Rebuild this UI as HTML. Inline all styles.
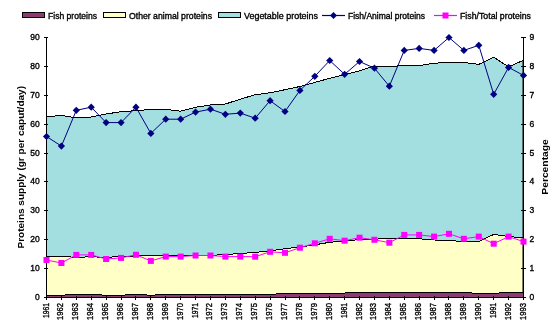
<!DOCTYPE html>
<html><head><meta charset="utf-8"><style>html,body{margin:0;padding:0;background:#fff;}svg{display:block;will-change:transform;}</style></head>
<body>
<svg width="553" height="324" viewBox="0 0 553 324">
<rect width="553" height="324" fill="#fff"/>
<polygon points="46.50,116.80 61.41,115.40 76.31,117.90 91.22,117.00 106.12,114.00 121.03,111.70 135.94,110.70 150.84,109.40 165.75,109.40 180.66,111.20 195.56,107.30 210.47,105.00 225.38,104.00 240.28,99.20 255.19,94.70 270.09,92.80 285.00,89.70 299.91,86.50 314.81,82.40 329.72,78.30 344.62,74.50 359.53,70.80 374.44,66.00 389.34,66.90 404.25,65.20 419.16,65.70 434.06,63.20 448.97,62.40 463.88,62.40 478.78,64.40 493.69,57.30 508.59,66.80 523.50,60.20 523.50,237.70 508.59,236.60 493.69,234.40 478.78,241.60 463.88,241.80 448.97,240.30 434.06,240.00 419.16,238.80 404.25,238.30 389.34,238.30 374.44,239.20 359.53,239.60 344.62,241.00 329.72,242.30 314.81,244.80 299.91,247.00 285.00,248.70 270.09,250.90 255.19,252.40 240.28,253.50 225.38,254.60 210.47,255.30 195.56,255.50 180.66,255.50 165.75,255.50 150.84,255.40 135.94,256.00 121.03,256.50 106.12,257.30 91.22,256.80 76.31,257.30 61.41,256.50 46.50,256.50" fill="#a3dfe0"/>
<polygon points="46.50,256.50 61.41,256.50 76.31,257.30 91.22,256.80 106.12,257.30 121.03,256.50 135.94,256.00 150.84,255.40 165.75,255.50 180.66,255.50 195.56,255.50 210.47,255.30 225.38,254.60 240.28,253.50 255.19,252.40 270.09,250.90 285.00,248.70 299.91,247.00 314.81,244.80 329.72,242.30 344.62,241.00 359.53,239.60 374.44,239.20 389.34,238.30 404.25,238.30 419.16,238.80 434.06,240.00 448.97,240.30 463.88,241.80 478.78,241.60 493.69,234.40 508.59,236.60 523.50,237.70 523.50,292.30 508.59,292.50 493.69,293.30 478.78,293.30 463.88,292.70 448.97,292.70 434.06,292.70 419.16,292.70 404.25,292.70 389.34,292.70 374.44,292.70 359.53,292.70 344.62,293.00 329.72,293.00 314.81,293.00 299.91,293.00 285.00,293.70 270.09,294.20 255.19,294.20 240.28,294.20 225.38,294.20 210.47,294.20 195.56,294.20 180.66,294.20 165.75,294.20 150.84,295.30 135.94,294.20 121.03,295.30 106.12,295.30 91.22,294.20 76.31,294.20 61.41,295.30 46.50,295.30" fill="#ffffc6"/>
<polygon points="46.50,295.30 61.41,295.30 76.31,294.20 91.22,294.20 106.12,295.30 121.03,295.30 135.94,294.20 150.84,295.30 165.75,294.20 180.66,294.20 195.56,294.20 210.47,294.20 225.38,294.20 240.28,294.20 255.19,294.20 270.09,294.20 285.00,293.70 299.91,293.00 314.81,293.00 329.72,293.00 344.62,293.00 359.53,292.70 374.44,292.70 389.34,292.70 404.25,292.70 419.16,292.70 434.06,292.70 448.97,292.70 463.88,292.70 478.78,293.30 493.69,293.30 508.59,292.50 523.50,292.30 523.50,297.00 508.59,297.00 493.69,297.00 478.78,297.00 463.88,297.00 448.97,297.00 434.06,297.00 419.16,297.00 404.25,297.00 389.34,297.00 374.44,297.00 359.53,297.00 344.62,297.00 329.72,297.00 314.81,297.00 299.91,297.00 285.00,297.00 270.09,297.00 255.19,297.00 240.28,297.00 225.38,297.00 210.47,297.00 195.56,297.00 180.66,297.00 165.75,297.00 150.84,297.00 135.94,297.00 121.03,297.00 106.12,297.00 91.22,297.00 76.31,297.00 61.41,297.00 46.50,297.00" fill="#8e3a73"/>
<polyline points="46.50,116.80 61.41,115.40 76.31,117.90 91.22,117.00 106.12,114.00 121.03,111.70 135.94,110.70 150.84,109.40 165.75,109.40 180.66,111.20 195.56,107.30 210.47,105.00 225.38,104.00 240.28,99.20 255.19,94.70 270.09,92.80 285.00,89.70 299.91,86.50 314.81,82.40 329.72,78.30 344.62,74.50 359.53,70.80 374.44,66.00 389.34,66.90 404.25,65.20 419.16,65.70 434.06,63.20 448.97,62.40 463.88,62.40 478.78,64.40 493.69,57.30 508.59,66.80 523.50,60.20" fill="none" stroke="#000" stroke-width="1" shape-rendering="crispEdges"/>
<polyline points="46.50,256.50 61.41,256.50 76.31,257.30 91.22,256.80 106.12,257.30 121.03,256.50 135.94,256.00 150.84,255.40 165.75,255.50 180.66,255.50 195.56,255.50 210.47,255.30 225.38,254.60 240.28,253.50 255.19,252.40 270.09,250.90 285.00,248.70 299.91,247.00 314.81,244.80 329.72,242.30 344.62,241.00 359.53,239.60 374.44,239.20 389.34,238.30 404.25,238.30 419.16,238.80 434.06,240.00 448.97,240.30 463.88,241.80 478.78,241.60 493.69,234.40 508.59,236.60 523.50,237.70" fill="none" stroke="#000" stroke-width="1" shape-rendering="crispEdges"/>
<polyline points="46.50,295.30 61.41,295.30 76.31,294.20 91.22,294.20 106.12,295.30 121.03,295.30 135.94,294.20 150.84,295.30 165.75,294.20 180.66,294.20 195.56,294.20 210.47,294.20 225.38,294.20 240.28,294.20 255.19,294.20 270.09,294.20 285.00,293.70 299.91,293.00 314.81,293.00 329.72,293.00 344.62,293.00 359.53,292.70 374.44,292.70 389.34,292.70 404.25,292.70 419.16,292.70 434.06,292.70 448.97,292.70 463.88,292.70 478.78,293.30 493.69,293.30 508.59,292.50 523.50,292.30" fill="none" stroke="#000" stroke-width="1" shape-rendering="crispEdges"/>
<line x1="523" y1="292" x2="523" y2="60" stroke="#000" stroke-width="1"/>
<g stroke="#000" stroke-width="1" shape-rendering="crispEdges">
<line x1="46.5" y1="37" x2="46.5" y2="298"/>
<line x1="523.5" y1="37" x2="523.5" y2="298"/>
<line x1="46" y1="297.5" x2="524" y2="297.5"/>
<line x1="44" y1="297.5" x2="48" y2="297.5"/>
<line x1="521" y1="297.5" x2="526" y2="297.5"/>
<line x1="44" y1="268.5" x2="48" y2="268.5"/>
<line x1="521" y1="268.5" x2="526" y2="268.5"/>
<line x1="44" y1="239.5" x2="48" y2="239.5"/>
<line x1="521" y1="239.5" x2="526" y2="239.5"/>
<line x1="44" y1="210.5" x2="48" y2="210.5"/>
<line x1="521" y1="210.5" x2="526" y2="210.5"/>
<line x1="44" y1="181.5" x2="48" y2="181.5"/>
<line x1="521" y1="181.5" x2="526" y2="181.5"/>
<line x1="44" y1="153.5" x2="48" y2="153.5"/>
<line x1="521" y1="153.5" x2="526" y2="153.5"/>
<line x1="44" y1="124.5" x2="48" y2="124.5"/>
<line x1="521" y1="124.5" x2="526" y2="124.5"/>
<line x1="44" y1="95.5" x2="48" y2="95.5"/>
<line x1="521" y1="95.5" x2="526" y2="95.5"/>
<line x1="44" y1="66.5" x2="48" y2="66.5"/>
<line x1="521" y1="66.5" x2="526" y2="66.5"/>
<line x1="44" y1="37.5" x2="48" y2="37.5"/>
<line x1="521" y1="37.5" x2="526" y2="37.5"/>
<line x1="46.5" y1="296" x2="46.5" y2="300"/>
<line x1="61.5" y1="296" x2="61.5" y2="300"/>
<line x1="76.5" y1="296" x2="76.5" y2="300"/>
<line x1="91.5" y1="296" x2="91.5" y2="300"/>
<line x1="106.5" y1="296" x2="106.5" y2="300"/>
<line x1="121.5" y1="296" x2="121.5" y2="300"/>
<line x1="135.5" y1="296" x2="135.5" y2="300"/>
<line x1="150.5" y1="296" x2="150.5" y2="300"/>
<line x1="165.5" y1="296" x2="165.5" y2="300"/>
<line x1="180.5" y1="296" x2="180.5" y2="300"/>
<line x1="195.5" y1="296" x2="195.5" y2="300"/>
<line x1="210.5" y1="296" x2="210.5" y2="300"/>
<line x1="225.5" y1="296" x2="225.5" y2="300"/>
<line x1="240.5" y1="296" x2="240.5" y2="300"/>
<line x1="255.5" y1="296" x2="255.5" y2="300"/>
<line x1="270.5" y1="296" x2="270.5" y2="300"/>
<line x1="285.5" y1="296" x2="285.5" y2="300"/>
<line x1="299.5" y1="296" x2="299.5" y2="300"/>
<line x1="314.5" y1="296" x2="314.5" y2="300"/>
<line x1="329.5" y1="296" x2="329.5" y2="300"/>
<line x1="344.5" y1="296" x2="344.5" y2="300"/>
<line x1="359.5" y1="296" x2="359.5" y2="300"/>
<line x1="374.5" y1="296" x2="374.5" y2="300"/>
<line x1="389.5" y1="296" x2="389.5" y2="300"/>
<line x1="404.5" y1="296" x2="404.5" y2="300"/>
<line x1="419.5" y1="296" x2="419.5" y2="300"/>
<line x1="434.5" y1="296" x2="434.5" y2="300"/>
<line x1="448.5" y1="296" x2="448.5" y2="300"/>
<line x1="463.5" y1="296" x2="463.5" y2="300"/>
<line x1="478.5" y1="296" x2="478.5" y2="300"/>
<line x1="493.5" y1="296" x2="493.5" y2="300"/>
<line x1="508.5" y1="296" x2="508.5" y2="300"/>
<line x1="523.5" y1="296" x2="523.5" y2="300"/>
</g>
<polyline points="46.50,260.00 61.41,263.00 76.31,254.90 91.22,254.90 106.12,259.00 121.03,257.90 135.94,254.80 150.84,260.90 165.75,256.60 180.66,256.60 195.56,255.50 210.47,255.50 225.38,256.60 240.28,256.60 255.19,256.70 270.09,251.80 285.00,252.80 299.91,247.70 314.81,243.30 329.72,238.80 344.62,240.70 359.53,237.70 374.44,239.80 389.34,242.70 404.25,234.90 419.16,234.90 434.06,236.60 448.97,233.80 463.88,238.80 478.78,236.60 493.69,243.70 508.59,236.60 523.50,241.60" fill="none" stroke="#ff00ff" stroke-width="1"/>
<rect x="43.50" y="257.00" width="6" height="6" fill="#ff00ff"/>
<rect x="58.41" y="260.00" width="6" height="6" fill="#ff00ff"/>
<rect x="73.31" y="251.90" width="6" height="6" fill="#ff00ff"/>
<rect x="88.22" y="251.90" width="6" height="6" fill="#ff00ff"/>
<rect x="103.12" y="256.00" width="6" height="6" fill="#ff00ff"/>
<rect x="118.03" y="254.90" width="6" height="6" fill="#ff00ff"/>
<rect x="132.94" y="251.80" width="6" height="6" fill="#ff00ff"/>
<rect x="147.84" y="257.90" width="6" height="6" fill="#ff00ff"/>
<rect x="162.75" y="253.60" width="6" height="6" fill="#ff00ff"/>
<rect x="177.66" y="253.60" width="6" height="6" fill="#ff00ff"/>
<rect x="192.56" y="252.50" width="6" height="6" fill="#ff00ff"/>
<rect x="207.47" y="252.50" width="6" height="6" fill="#ff00ff"/>
<rect x="222.38" y="253.60" width="6" height="6" fill="#ff00ff"/>
<rect x="237.28" y="253.60" width="6" height="6" fill="#ff00ff"/>
<rect x="252.19" y="253.70" width="6" height="6" fill="#ff00ff"/>
<rect x="267.09" y="248.80" width="6" height="6" fill="#ff00ff"/>
<rect x="282.00" y="249.80" width="6" height="6" fill="#ff00ff"/>
<rect x="296.91" y="244.70" width="6" height="6" fill="#ff00ff"/>
<rect x="311.81" y="240.30" width="6" height="6" fill="#ff00ff"/>
<rect x="326.72" y="235.80" width="6" height="6" fill="#ff00ff"/>
<rect x="341.62" y="237.70" width="6" height="6" fill="#ff00ff"/>
<rect x="356.53" y="234.70" width="6" height="6" fill="#ff00ff"/>
<rect x="371.44" y="236.80" width="6" height="6" fill="#ff00ff"/>
<rect x="386.34" y="239.70" width="6" height="6" fill="#ff00ff"/>
<rect x="401.25" y="231.90" width="6" height="6" fill="#ff00ff"/>
<rect x="416.16" y="231.90" width="6" height="6" fill="#ff00ff"/>
<rect x="431.06" y="233.60" width="6" height="6" fill="#ff00ff"/>
<rect x="445.97" y="230.80" width="6" height="6" fill="#ff00ff"/>
<rect x="460.88" y="235.80" width="6" height="6" fill="#ff00ff"/>
<rect x="475.78" y="233.60" width="6" height="6" fill="#ff00ff"/>
<rect x="490.69" y="240.70" width="6" height="6" fill="#ff00ff"/>
<rect x="505.59" y="233.60" width="6" height="6" fill="#ff00ff"/>
<rect x="520.50" y="238.60" width="6" height="6" fill="#ff00ff"/>
<polyline points="46.50,136.50 61.41,146.10 76.31,110.30 91.22,107.20 106.12,122.60 121.03,122.60 135.94,107.20 150.84,133.40 165.75,119.20 180.66,119.20 195.56,112.10 210.47,109.20 225.38,114.30 240.28,113.10 255.19,118.20 270.09,100.70 285.00,111.50 299.91,90.40 314.81,76.30 329.72,60.50 344.62,74.30 359.53,61.50 374.44,68.20 389.34,86.20 404.25,50.40 419.16,48.40 434.06,50.40 448.97,37.50 463.88,50.40 478.78,45.30 493.69,94.30 508.59,67.40 523.50,75.40" fill="none" stroke="#000080" stroke-width="1"/>
<polygon points="46.50,132.90 50.10,136.50 46.50,140.10 42.90,136.50" fill="#000080"/>
<polygon points="61.41,142.50 65.01,146.10 61.41,149.70 57.81,146.10" fill="#000080"/>
<polygon points="76.31,106.70 79.91,110.30 76.31,113.90 72.71,110.30" fill="#000080"/>
<polygon points="91.22,103.60 94.82,107.20 91.22,110.80 87.62,107.20" fill="#000080"/>
<polygon points="106.12,119.00 109.72,122.60 106.12,126.20 102.53,122.60" fill="#000080"/>
<polygon points="121.03,119.00 124.63,122.60 121.03,126.20 117.43,122.60" fill="#000080"/>
<polygon points="135.94,103.60 139.54,107.20 135.94,110.80 132.34,107.20" fill="#000080"/>
<polygon points="150.84,129.80 154.44,133.40 150.84,137.00 147.24,133.40" fill="#000080"/>
<polygon points="165.75,115.60 169.35,119.20 165.75,122.80 162.15,119.20" fill="#000080"/>
<polygon points="180.66,115.60 184.26,119.20 180.66,122.80 177.06,119.20" fill="#000080"/>
<polygon points="195.56,108.50 199.16,112.10 195.56,115.70 191.96,112.10" fill="#000080"/>
<polygon points="210.47,105.60 214.07,109.20 210.47,112.80 206.87,109.20" fill="#000080"/>
<polygon points="225.38,110.70 228.97,114.30 225.38,117.90 221.78,114.30" fill="#000080"/>
<polygon points="240.28,109.50 243.88,113.10 240.28,116.70 236.68,113.10" fill="#000080"/>
<polygon points="255.19,114.60 258.79,118.20 255.19,121.80 251.59,118.20" fill="#000080"/>
<polygon points="270.09,97.10 273.69,100.70 270.09,104.30 266.49,100.70" fill="#000080"/>
<polygon points="285.00,107.90 288.60,111.50 285.00,115.10 281.40,111.50" fill="#000080"/>
<polygon points="299.91,86.80 303.51,90.40 299.91,94.00 296.31,90.40" fill="#000080"/>
<polygon points="314.81,72.70 318.41,76.30 314.81,79.90 311.21,76.30" fill="#000080"/>
<polygon points="329.72,56.90 333.32,60.50 329.72,64.10 326.12,60.50" fill="#000080"/>
<polygon points="344.62,70.70 348.23,74.30 344.62,77.90 341.02,74.30" fill="#000080"/>
<polygon points="359.53,57.90 363.13,61.50 359.53,65.10 355.93,61.50" fill="#000080"/>
<polygon points="374.44,64.60 378.04,68.20 374.44,71.80 370.84,68.20" fill="#000080"/>
<polygon points="389.34,82.60 392.94,86.20 389.34,89.80 385.74,86.20" fill="#000080"/>
<polygon points="404.25,46.80 407.85,50.40 404.25,54.00 400.65,50.40" fill="#000080"/>
<polygon points="419.16,44.80 422.76,48.40 419.16,52.00 415.56,48.40" fill="#000080"/>
<polygon points="434.06,46.80 437.66,50.40 434.06,54.00 430.46,50.40" fill="#000080"/>
<polygon points="448.97,33.90 452.57,37.50 448.97,41.10 445.37,37.50" fill="#000080"/>
<polygon points="463.88,46.80 467.48,50.40 463.88,54.00 460.27,50.40" fill="#000080"/>
<polygon points="478.78,41.70 482.38,45.30 478.78,48.90 475.18,45.30" fill="#000080"/>
<polygon points="493.69,90.70 497.29,94.30 493.69,97.90 490.09,94.30" fill="#000080"/>
<polygon points="508.59,63.80 512.19,67.40 508.59,71.00 504.99,67.40" fill="#000080"/>
<polygon points="523.50,71.80 527.10,75.40 523.50,79.00 519.90,75.40" fill="#000080"/>
<text x="39.8" y="300.0" text-anchor="end" font-size="8.5" font-family="Liberation Sans, sans-serif" stroke="#000" stroke-width="0.35">0</text>
<text x="529.5" y="300.0" font-size="8.5" font-family="Liberation Sans, sans-serif" stroke="#000" stroke-width="0.35">0</text>
<text x="39.8" y="271.1" text-anchor="end" font-size="8.5" font-family="Liberation Sans, sans-serif" stroke="#000" stroke-width="0.35">10</text>
<text x="529.5" y="271.1" font-size="8.5" font-family="Liberation Sans, sans-serif" stroke="#000" stroke-width="0.35">1</text>
<text x="39.8" y="242.2" text-anchor="end" font-size="8.5" font-family="Liberation Sans, sans-serif" stroke="#000" stroke-width="0.35">20</text>
<text x="529.5" y="242.2" font-size="8.5" font-family="Liberation Sans, sans-serif" stroke="#000" stroke-width="0.35">2</text>
<text x="39.8" y="213.3" text-anchor="end" font-size="8.5" font-family="Liberation Sans, sans-serif" stroke="#000" stroke-width="0.35">30</text>
<text x="529.5" y="213.3" font-size="8.5" font-family="Liberation Sans, sans-serif" stroke="#000" stroke-width="0.35">3</text>
<text x="39.8" y="184.4" text-anchor="end" font-size="8.5" font-family="Liberation Sans, sans-serif" stroke="#000" stroke-width="0.35">40</text>
<text x="529.5" y="184.4" font-size="8.5" font-family="Liberation Sans, sans-serif" stroke="#000" stroke-width="0.35">4</text>
<text x="39.8" y="155.6" text-anchor="end" font-size="8.5" font-family="Liberation Sans, sans-serif" stroke="#000" stroke-width="0.35">50</text>
<text x="529.5" y="155.6" font-size="8.5" font-family="Liberation Sans, sans-serif" stroke="#000" stroke-width="0.35">5</text>
<text x="39.8" y="126.7" text-anchor="end" font-size="8.5" font-family="Liberation Sans, sans-serif" stroke="#000" stroke-width="0.35">60</text>
<text x="529.5" y="126.7" font-size="8.5" font-family="Liberation Sans, sans-serif" stroke="#000" stroke-width="0.35">6</text>
<text x="39.8" y="97.8" text-anchor="end" font-size="8.5" font-family="Liberation Sans, sans-serif" stroke="#000" stroke-width="0.35">70</text>
<text x="529.5" y="97.8" font-size="8.5" font-family="Liberation Sans, sans-serif" stroke="#000" stroke-width="0.35">7</text>
<text x="39.8" y="68.9" text-anchor="end" font-size="8.5" font-family="Liberation Sans, sans-serif" stroke="#000" stroke-width="0.35">80</text>
<text x="529.5" y="68.9" font-size="8.5" font-family="Liberation Sans, sans-serif" stroke="#000" stroke-width="0.35">8</text>
<text x="39.8" y="40.0" text-anchor="end" font-size="8.5" font-family="Liberation Sans, sans-serif" stroke="#000" stroke-width="0.35">90</text>
<text x="529.5" y="40.0" font-size="8.5" font-family="Liberation Sans, sans-serif" stroke="#000" stroke-width="0.35">9</text>
<text transform="translate(48.50,303) rotate(-90)" text-anchor="end" font-size="9.2" textLength="15" lengthAdjust="spacingAndGlyphs" font-family="Liberation Sans, sans-serif" stroke="#000" stroke-width="0.35">1961</text>
<text transform="translate(63.41,303) rotate(-90)" text-anchor="end" font-size="9.2" textLength="17" lengthAdjust="spacingAndGlyphs" font-family="Liberation Sans, sans-serif" stroke="#000" stroke-width="0.35">1962</text>
<text transform="translate(78.31,303) rotate(-90)" text-anchor="end" font-size="9.2" textLength="17" lengthAdjust="spacingAndGlyphs" font-family="Liberation Sans, sans-serif" stroke="#000" stroke-width="0.35">1963</text>
<text transform="translate(93.22,303) rotate(-90)" text-anchor="end" font-size="9.2" textLength="17" lengthAdjust="spacingAndGlyphs" font-family="Liberation Sans, sans-serif" stroke="#000" stroke-width="0.35">1964</text>
<text transform="translate(108.12,303) rotate(-90)" text-anchor="end" font-size="9.2" textLength="17" lengthAdjust="spacingAndGlyphs" font-family="Liberation Sans, sans-serif" stroke="#000" stroke-width="0.35">1965</text>
<text transform="translate(123.03,303) rotate(-90)" text-anchor="end" font-size="9.2" textLength="17" lengthAdjust="spacingAndGlyphs" font-family="Liberation Sans, sans-serif" stroke="#000" stroke-width="0.35">1966</text>
<text transform="translate(137.94,303) rotate(-90)" text-anchor="end" font-size="9.2" textLength="17" lengthAdjust="spacingAndGlyphs" font-family="Liberation Sans, sans-serif" stroke="#000" stroke-width="0.35">1967</text>
<text transform="translate(152.84,303) rotate(-90)" text-anchor="end" font-size="9.2" textLength="17" lengthAdjust="spacingAndGlyphs" font-family="Liberation Sans, sans-serif" stroke="#000" stroke-width="0.35">1968</text>
<text transform="translate(167.75,303) rotate(-90)" text-anchor="end" font-size="9.2" textLength="17" lengthAdjust="spacingAndGlyphs" font-family="Liberation Sans, sans-serif" stroke="#000" stroke-width="0.35">1969</text>
<text transform="translate(182.66,303) rotate(-90)" text-anchor="end" font-size="9.2" textLength="17" lengthAdjust="spacingAndGlyphs" font-family="Liberation Sans, sans-serif" stroke="#000" stroke-width="0.35">1970</text>
<text transform="translate(197.56,303) rotate(-90)" text-anchor="end" font-size="9.2" textLength="15" lengthAdjust="spacingAndGlyphs" font-family="Liberation Sans, sans-serif" stroke="#000" stroke-width="0.35">1971</text>
<text transform="translate(212.47,303) rotate(-90)" text-anchor="end" font-size="9.2" textLength="17" lengthAdjust="spacingAndGlyphs" font-family="Liberation Sans, sans-serif" stroke="#000" stroke-width="0.35">1972</text>
<text transform="translate(227.38,303) rotate(-90)" text-anchor="end" font-size="9.2" textLength="17" lengthAdjust="spacingAndGlyphs" font-family="Liberation Sans, sans-serif" stroke="#000" stroke-width="0.35">1973</text>
<text transform="translate(242.28,303) rotate(-90)" text-anchor="end" font-size="9.2" textLength="17" lengthAdjust="spacingAndGlyphs" font-family="Liberation Sans, sans-serif" stroke="#000" stroke-width="0.35">1974</text>
<text transform="translate(257.19,303) rotate(-90)" text-anchor="end" font-size="9.2" textLength="17" lengthAdjust="spacingAndGlyphs" font-family="Liberation Sans, sans-serif" stroke="#000" stroke-width="0.35">1975</text>
<text transform="translate(272.09,303) rotate(-90)" text-anchor="end" font-size="9.2" textLength="17" lengthAdjust="spacingAndGlyphs" font-family="Liberation Sans, sans-serif" stroke="#000" stroke-width="0.35">1976</text>
<text transform="translate(287.00,303) rotate(-90)" text-anchor="end" font-size="9.2" textLength="17" lengthAdjust="spacingAndGlyphs" font-family="Liberation Sans, sans-serif" stroke="#000" stroke-width="0.35">1977</text>
<text transform="translate(301.91,303) rotate(-90)" text-anchor="end" font-size="9.2" textLength="17" lengthAdjust="spacingAndGlyphs" font-family="Liberation Sans, sans-serif" stroke="#000" stroke-width="0.35">1978</text>
<text transform="translate(316.81,303) rotate(-90)" text-anchor="end" font-size="9.2" textLength="17" lengthAdjust="spacingAndGlyphs" font-family="Liberation Sans, sans-serif" stroke="#000" stroke-width="0.35">1979</text>
<text transform="translate(331.72,303) rotate(-90)" text-anchor="end" font-size="9.2" textLength="17" lengthAdjust="spacingAndGlyphs" font-family="Liberation Sans, sans-serif" stroke="#000" stroke-width="0.35">1980</text>
<text transform="translate(346.62,303) rotate(-90)" text-anchor="end" font-size="9.2" textLength="15" lengthAdjust="spacingAndGlyphs" font-family="Liberation Sans, sans-serif" stroke="#000" stroke-width="0.35">1981</text>
<text transform="translate(361.53,303) rotate(-90)" text-anchor="end" font-size="9.2" textLength="17" lengthAdjust="spacingAndGlyphs" font-family="Liberation Sans, sans-serif" stroke="#000" stroke-width="0.35">1982</text>
<text transform="translate(376.44,303) rotate(-90)" text-anchor="end" font-size="9.2" textLength="17" lengthAdjust="spacingAndGlyphs" font-family="Liberation Sans, sans-serif" stroke="#000" stroke-width="0.35">1983</text>
<text transform="translate(391.34,303) rotate(-90)" text-anchor="end" font-size="9.2" textLength="17" lengthAdjust="spacingAndGlyphs" font-family="Liberation Sans, sans-serif" stroke="#000" stroke-width="0.35">1984</text>
<text transform="translate(406.25,303) rotate(-90)" text-anchor="end" font-size="9.2" textLength="17" lengthAdjust="spacingAndGlyphs" font-family="Liberation Sans, sans-serif" stroke="#000" stroke-width="0.35">1985</text>
<text transform="translate(421.16,303) rotate(-90)" text-anchor="end" font-size="9.2" textLength="17" lengthAdjust="spacingAndGlyphs" font-family="Liberation Sans, sans-serif" stroke="#000" stroke-width="0.35">1986</text>
<text transform="translate(436.06,303) rotate(-90)" text-anchor="end" font-size="9.2" textLength="17" lengthAdjust="spacingAndGlyphs" font-family="Liberation Sans, sans-serif" stroke="#000" stroke-width="0.35">1987</text>
<text transform="translate(450.97,303) rotate(-90)" text-anchor="end" font-size="9.2" textLength="17" lengthAdjust="spacingAndGlyphs" font-family="Liberation Sans, sans-serif" stroke="#000" stroke-width="0.35">1988</text>
<text transform="translate(465.88,303) rotate(-90)" text-anchor="end" font-size="9.2" textLength="17" lengthAdjust="spacingAndGlyphs" font-family="Liberation Sans, sans-serif" stroke="#000" stroke-width="0.35">1989</text>
<text transform="translate(480.78,303) rotate(-90)" text-anchor="end" font-size="9.2" textLength="17" lengthAdjust="spacingAndGlyphs" font-family="Liberation Sans, sans-serif" stroke="#000" stroke-width="0.35">1990</text>
<text transform="translate(495.69,303) rotate(-90)" text-anchor="end" font-size="9.2" textLength="15" lengthAdjust="spacingAndGlyphs" font-family="Liberation Sans, sans-serif" stroke="#000" stroke-width="0.35">1991</text>
<text transform="translate(510.59,303) rotate(-90)" text-anchor="end" font-size="9.2" textLength="17" lengthAdjust="spacingAndGlyphs" font-family="Liberation Sans, sans-serif" stroke="#000" stroke-width="0.35">1992</text>
<text transform="translate(525.50,303) rotate(-90)" text-anchor="end" font-size="9.2" textLength="17" lengthAdjust="spacingAndGlyphs" font-family="Liberation Sans, sans-serif" stroke="#000" stroke-width="0.35">1993</text>
<text transform="translate(24,248.5) rotate(-90)" font-size="9.6" font-weight="bold" textLength="162.5" lengthAdjust="spacingAndGlyphs" font-family="Liberation Sans, sans-serif">Proteins supply (gr per caput/day)</text>
<text transform="translate(547.5,194.7) rotate(-90)" font-size="9.4" font-weight="bold" textLength="55.5" lengthAdjust="spacingAndGlyphs" font-family="Liberation Sans, sans-serif">Percentage</text>
<rect x="22.5" y="12.5" width="22" height="5" fill="#8e3a73" stroke="#000"/>
<rect x="103.5" y="12.5" width="22" height="5" fill="#ffffc6" stroke="#000"/>
<rect x="218.5" y="12.5" width="22" height="5" fill="#a3dfe0" stroke="#000"/>
<line x1="322" y1="15.5" x2="345" y2="15.5" stroke="#000080" stroke-width="1.2"/>
<polygon points="333.5,12 337,15.5 333.5,19 330,15.5" fill="#000080"/>
<line x1="434" y1="15.5" x2="457" y2="15.5" stroke="#ff00ff" stroke-width="1.2"/>
<rect x="442.5" y="12.5" width="6" height="6" fill="#ff00ff"/>
<text x="48" y="18.5" font-size="8.7" font-family="Liberation Sans, sans-serif" stroke="#000" stroke-width="0.35" textLength="49" lengthAdjust="spacingAndGlyphs">Fish proteins</text>
<text x="129" y="18.5" font-size="8.7" font-family="Liberation Sans, sans-serif" stroke="#000" stroke-width="0.35" textLength="83" lengthAdjust="spacingAndGlyphs">Other animal proteins</text>
<text x="244" y="18.5" font-size="8.7" font-family="Liberation Sans, sans-serif" stroke="#000" stroke-width="0.35" textLength="74" lengthAdjust="spacingAndGlyphs">Vegetable proteins</text>
<text x="348" y="18.5" font-size="8.7" font-family="Liberation Sans, sans-serif" stroke="#000" stroke-width="0.35" textLength="77" lengthAdjust="spacingAndGlyphs">Fish/Animal proteins</text>
<text x="460" y="18.5" font-size="8.7" font-family="Liberation Sans, sans-serif" stroke="#000" stroke-width="0.35" textLength="71" lengthAdjust="spacingAndGlyphs">Fish/Total proteins</text>
</svg>
</body></html>
